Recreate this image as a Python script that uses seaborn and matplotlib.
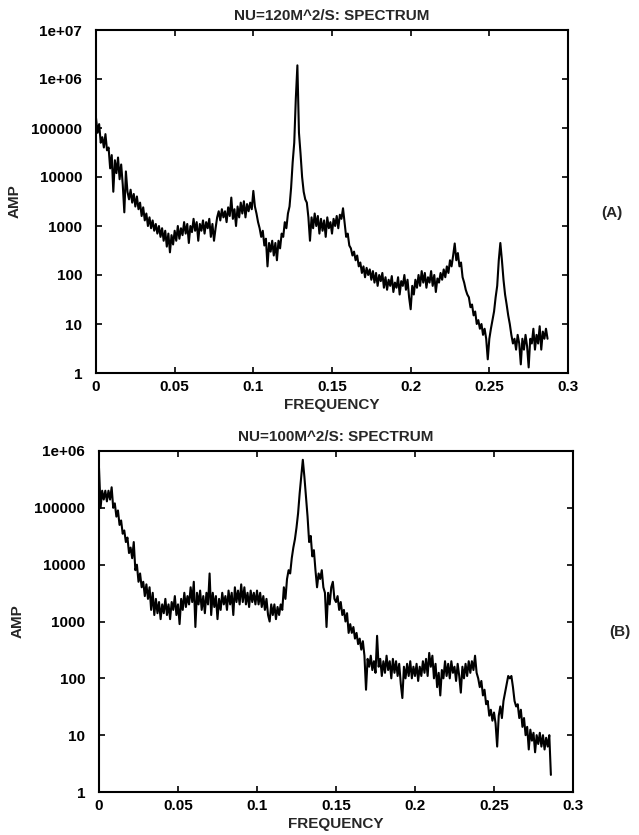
import numpy as np
import pandas as pd
import matplotlib
matplotlib.use("Agg")
import matplotlib.pyplot as plt
import seaborn as sns

sns.set_theme(style="ticks")
plt.rcParams["font.family"] = ["Liberation Sans", "DejaVu Sans"]

# frequency grid (same for both runs), step 0.001
freq_a = np.round(np.arange(0, 288) * 0.001, 3)
freq_b = np.round(np.arange(0, 287) * 0.001, 3)

# (A) NU=120 m^2/s, amplitudes
amp_a = [
    1.6e5, 8.0e4, 1.2e5, 5.0e4, 6.5e4, 4.0e4, 7.5e4, 3.5e4, 4.0e4, 1.5e4,
    2.8e4, 5.0e3, 2.2e4, 1.2e4, 2.5e4, 9.0e3, 1.8e4, 7.0e3, 1.9e3, 1.3e4,
    5.0e3, 3.5e3, 5.5e3, 3.0e3, 4.5e3, 2.5e3, 4.0e3, 2.2e3, 3.0e3, 1.6e3,
    2.4e3, 1.3e3, 1.8e3, 1.0e3, 1.5e3, 900, 1.3e3, 800, 1.1e3, 700,
    1.0e3, 600, 900, 500, 800, 380, 700, 290, 650, 420,
    800, 500, 1.0e3, 550, 900, 650, 1.2e3, 700, 1.1e3, 450,
    1.0e3, 750, 1.4e3, 800, 1.2e3, 500, 1.1e3, 800, 1.3e3, 700,
    1.2e3, 900, 1.4e3, 600, 1.1e3, 500, 900, 1.5e3, 2.0e3, 1.3e3,
    2.2e3, 1.5e3, 2.0e3, 1.2e3, 2.4e3, 1.6e3, 3.8e3, 1.4e3, 2.2e3, 1.0e3,
    2.5e3, 1.5e3, 3.0e3, 1.8e3, 3.2e3, 1.5e3, 2.8e3, 2.0e3, 3.0e3, 2.2e3,
    5.2e3, 2.5e3, 1.8e3, 1.2e3, 900, 600, 800, 400, 550, 150,
    450, 300, 500, 250, 450, 200, 500, 350, 700, 600,
    1.2e3, 900, 1.8e3, 2.5e3, 6.0e3, 2.0e4, 5.0e4, 4.0e5, 1.9e6, 8.0e4,
    3.0e4, 1.0e4, 5.0e3, 3.5e3, 3.0e3, 1.5e3, 500, 1.5e3, 900, 1.8e3,
    1.0e3, 1.6e3, 700, 1.4e3, 800, 1.3e3, 600, 1.5e3, 900, 1.2e3,
    700, 1.4e3, 1.0e3, 1.6e3, 900, 1.7e3, 1.4e3, 2.3e3, 1.2e3, 600,
    700, 400, 350, 250, 300, 200, 250, 150, 180, 110,
    150, 90, 140, 100, 130, 80, 120, 70, 110, 60,
    100, 75, 110, 55, 90, 50, 80, 60, 95, 45,
    70, 55, 90, 40, 75, 60, 100, 50, 80, 35,
    20, 60, 40, 80, 55, 100, 60, 120, 70, 110,
    55, 90, 70, 120, 60, 100, 45, 85, 70, 110,
    80, 130, 90, 150, 110, 200, 150, 250, 440, 200,
    280, 150, 180, 90, 70, 50, 40, 35, 22, 25,
    15, 18, 10, 12, 8, 10, 6, 8, 5, 1.9,
    5, 8, 12, 18, 35, 60, 200, 450, 200, 80,
    40, 25, 15, 10, 6, 4, 5, 3, 6, 4,
    1.5, 5, 3, 6, 3.5, 1.3, 5, 4, 8, 3,
    6, 4, 9, 3, 7, 5, 8, 5,
]

# (B) NU=100 m^2/s
amp_b = [
    5.0e5, 1.0e5, 2.0e5, 1.4e5, 2.0e5, 1.3e5, 2.0e5, 1.4e5, 2.3e5, 1.0e5,
    1.2e5, 7.0e4, 9.0e4, 5.0e4, 6.0e4, 3.5e4, 4.0e4, 2.5e4, 3.0e4, 1.6e4,
    2.0e4, 1.3e4, 2.5e4, 8.0e3, 1.0e4, 5.0e3, 7.0e3, 4.0e3, 5.0e3, 2.8e3,
    4.5e3, 2.5e3, 4.0e3, 1.6e3, 3.2e3, 1.3e3, 2.5e3, 1.4e3, 2.2e3, 1.1e3,
    2.0e3, 1.4e3, 2.5e3, 1.3e3, 2.0e3, 1.1e3, 2.2e3, 1.6e3, 2.8e3, 1.3e3,
    2.0e3, 900, 2.5e3, 1.6e3, 3.2e3, 1.8e3, 2.8e3, 2.0e3, 4.0e3, 2.2e3,
    5.0e3, 800, 3.2e3, 2.0e3, 3.5e3, 1.6e3, 2.8e3, 1.4e3, 3.2e3, 2.0e3,
    7.0e3, 1.3e3, 3.2e3, 1.8e3, 2.8e3, 1.1e3, 2.5e3, 1.6e3, 3.2e3, 2.0e3,
    2.8e3, 1.6e3, 3.5e3, 2.0e3, 3.2e3, 1.3e3, 4.0e3, 2.2e3, 3.5e3, 2.0e3,
    4.5e3, 2.2e3, 4.0e3, 2.0e3, 3.2e3, 1.8e3, 3.5e3, 2.2e3, 3.2e3, 2.0e3,
    3.5e3, 2.0e3, 3.2e3, 1.8e3, 2.8e3, 1.6e3, 2.5e3, 1.3e3, 1.0e3, 2.0e3,
    1.3e3, 2.0e3, 1.1e3, 1.8e3, 1.3e3, 2.0e3, 1.6e3, 4.0e3, 2.5e3, 5.6e3,
    8.0e3, 7.0e3, 1.3e4, 2.0e4, 2.8e4, 4.5e4, 8.0e4, 1.8e5, 3.5e5, 7.0e5,
    3.5e5, 1.6e5, 7.0e4, 2.5e4, 3.2e4, 1.4e4, 1.8e4, 8.0e3, 4.0e3, 7.0e3,
    5.6e3, 8.0e3, 4.0e3, 3.2e3, 800, 3.2e3, 2.0e3, 4.0e3, 5.0e3, 2.5e3,
    2.2e3, 2.8e3, 1.6e3, 2.2e3, 1.3e3, 1.6e3, 1.0e3, 1.4e3, 630, 900,
    630, 800, 500, 630, 400, 500, 320, 450, 250, 63,
    220, 160, 250, 140, 200, 125, 560, 160, 220, 110,
    200, 125, 250, 140, 200, 100, 220, 125, 200, 110,
    180, 80, 45, 160, 100, 180, 110, 200, 100, 160,
    110, 180, 90, 160, 110, 200, 125, 220, 110, 280,
    160, 250, 100, 180, 70, 125, 50, 140, 100, 200,
    110, 180, 100, 200, 125, 160, 90, 180, 110, 56,
    160, 100, 180, 110, 200, 125, 200, 140, 250, 125,
    100, 70, 90, 50, 63, 35, 40, 22, 28, 18,
    25, 16, 6.3, 22, 32, 20, 40, 56, 80, 110,
    100, 110, 70, 40, 32, 35, 20, 28, 14, 20,
    10, 14, 5.6, 12.5, 8, 11, 5, 10, 7, 11,
    6.3, 10, 5.6, 9, 6.3, 10, 2,
]

titles = ["NU=120M^2/S: SPECTRUM", "NU=100M^2/S: SPECTRUM"]
panel_tags = ["(A)", "(B)"]
y_tops = [1e7, 1e6]
y_ticks = [[1, 10, 100, 1000, 1e4, 1e5, 1e6, 1e7],
           [1, 10, 100, 1000, 1e4, 1e5, 1e6]]
y_ticklabels = [["1", "10", "100", "1000", "10000", "100000", "1e+06", "1e+07"],
                ["1", "10", "100", "1000", "10000", "100000", "1e+06"]]
x_ticks = [0, 0.05, 0.1, 0.15, 0.2, 0.25, 0.3]
x_ticklabels = ["0", "0.05", "0.1", "0.15", "0.2", "0.25", "0.3"]

df_a = pd.DataFrame({"freq": freq_a, "amp": amp_a})
df_b = pd.DataFrame({"freq": freq_b, "amp": amp_b})

W, H = 639, 835
fig = plt.figure(figsize=(W / 100, H / 100), dpi=100)
ax_a = fig.add_axes([96 / W, 1 - 373 / H, 472 / W, 343 / H])
ax_b = fig.add_axes([99 / W, 1 - 792 / H, 474 / W, 341 / H])

fs = 11
fw = "bold"
for i, (ax, df) in enumerate([(ax_a, df_a), (ax_b, df_b)]):
    sns.lineplot(data=df, x="freq", y="amp", ax=ax, color="black",
                 linewidth=1.5, estimator=None)
    ax.set_yscale("log")
    ax.set_xlim(0, 0.3)
    ax.set_ylim(1, y_tops[i])
    ax.set_yticks(y_ticks[i])
    ax.set_yticklabels(y_ticklabels[i], fontsize=fs, fontweight=fw)
    ax.yaxis.set_minor_locator(matplotlib.ticker.NullLocator())
    ax.set_xticks(x_ticks)
    ax.set_xticklabels(x_ticklabels, fontsize=fs, fontweight=fw)
    ax.tick_params(direction="in", length=4, width=1.2, top=True, right=True,
                   colors="black")
    ax.tick_params(axis="y", pad=10)
    ax.tick_params(axis="x", pad=5)
    for s in ax.spines.values():
        s.set_linewidth(1.5)
        s.set_color("black")
    ax.set_xlabel("FREQUENCY", fontsize=fs, fontweight=fw, labelpad=3)
    ax.set_ylabel("AMP", fontsize=fs, fontweight=fw, labelpad=7)
    ax.set_title(titles[i], fontsize=fs, fontweight=fw, pad=7)

fig.text(612 / W, 1 - 213 / H, "(A)", fontsize=fs, fontweight=fw,
         ha="center", va="center")
fig.text(620 / W, 1 - 632 / H, "(B)", fontsize=fs, fontweight=fw,
         ha="center", va="center")

fig.savefig("out.png", dpi=100)
